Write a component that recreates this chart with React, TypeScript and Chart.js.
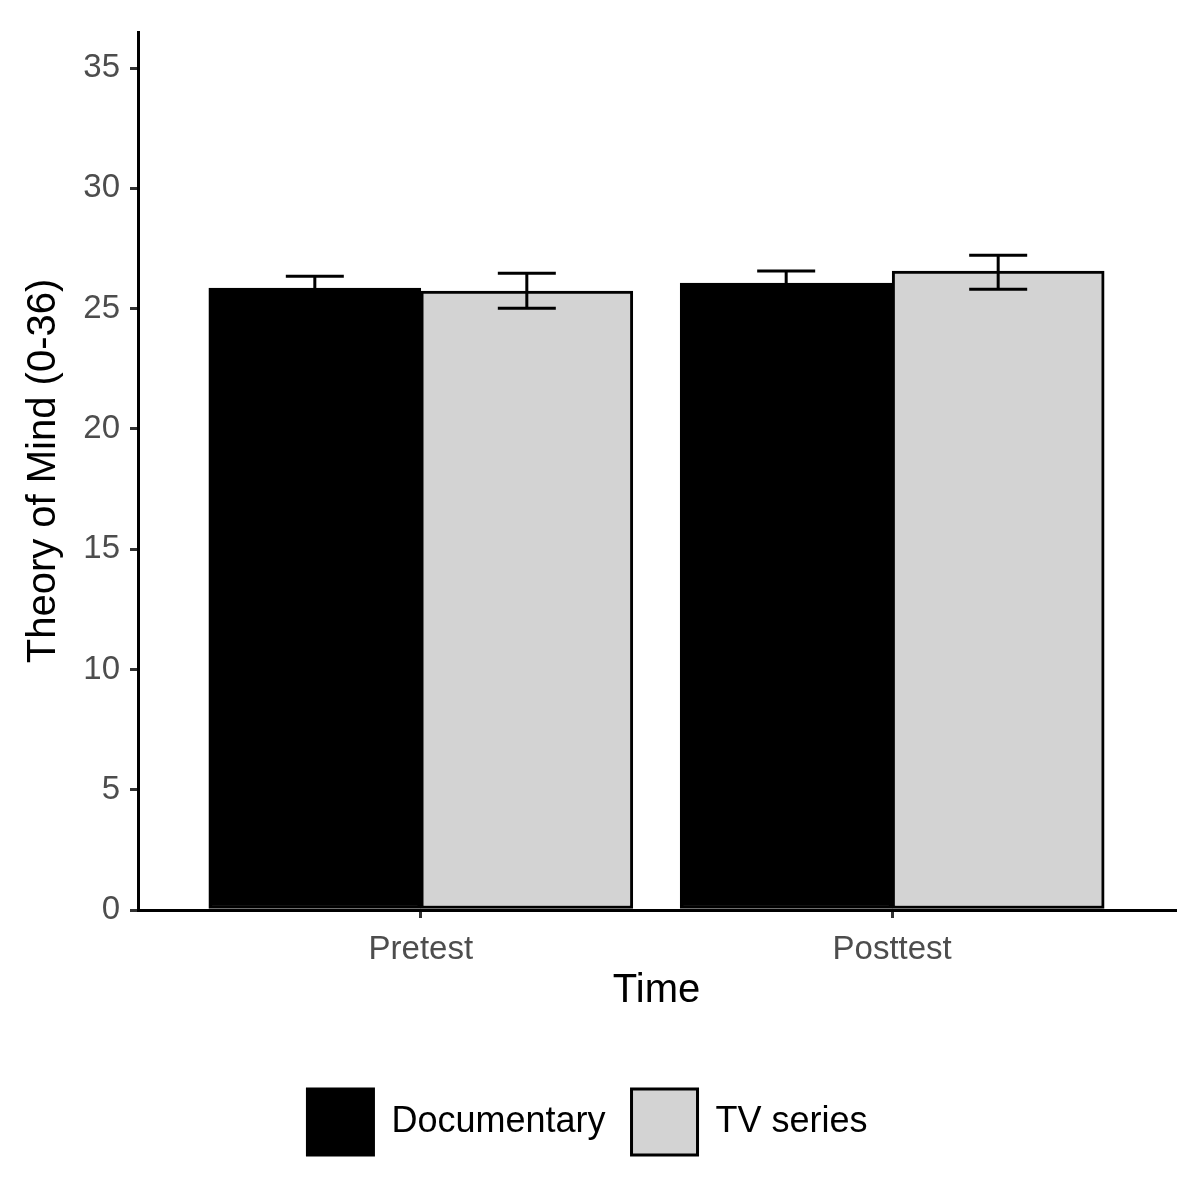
import React, { useEffect, useRef } from "react";
import { Chart, registerables } from "chart.js";
Chart.register(...registerables);

const categories = ["Pretest", "Posttest"];
const seriesNames = ["Documentary", "TV series"];
const docMeans = [25.85, 26.06];
const docLow = [25.35, 25.56];
const docHigh = [26.35, 26.56];
const tvMeans = [25.73, 26.56];
const tvLow = [25.02, 25.81];
const tvHigh = [26.47, 27.22];
const yTicks = [0, 5, 10, 15, 20, 25, 30, 35];

const errorPlugin = {
  id: "errbars",
  afterDatasetsDraw(chart: any) {
    const ctx = chart.ctx;
    const y = chart.scales.y;
    const sets = [[docLow, docHigh], [tvLow, tvHigh]];
    ctx.save();
    ctx.strokeStyle = "#000";
    ctx.lineWidth = 3;
    sets.forEach((s, di) => {
      const meta = chart.getDatasetMeta(di);
      meta.data.forEach((bar: any, i: number) => {
        const x = bar.x;
        const y1 = y.getPixelForValue(s[0][i]);
        const y2 = y.getPixelForValue(s[1][i]);
        ctx.beginPath();
        ctx.moveTo(x, y1); ctx.lineTo(x, y2);
        ctx.moveTo(x - 29, y1); ctx.lineTo(x + 29, y1);
        ctx.moveTo(x - 29, y2); ctx.lineTo(x + 29, y2);
        ctx.stroke();
      });
    });
    ctx.restore();
  },
};

export default function App() {
  const ref = useRef<HTMLCanvasElement>(null);
  useEffect(() => {
    document.body.style.margin = "0";
    const chart = new Chart(ref.current!, {
      type: "bar",
      data: {
        datasets: [
          {
            label: seriesNames[0],
            data: docMeans.map((v, i) => ({ x: i + 1, y: v })),
            backgroundColor: "#000000",
            borderColor: "#000000",
            borderWidth: 3,
            borderSkipped: false,
          },
          {
            label: seriesNames[1],
            data: tvMeans.map((v, i) => ({ x: i + 1, y: v })),
            backgroundColor: "#d3d3d3",
            borderColor: "#000000",
            borderWidth: 3,
            borderSkipped: false,
          },
        ],
      },
      options: {
        animation: false,
        responsive: false,
        maintainAspectRatio: false,
        layout: { padding: { left: 0, right: 25, top: 32, bottom: 25 } },
        datasets: { bar: { barThickness: 212 } },
        plugins: {
          tooltip: { enabled: false },
          legend: {
            position: "bottom",
            labels: {
              boxWidth: 66,
              boxHeight: 66,
              padding: 26,
              color: "#000",
              font: { family: "Liberation Sans", size: 36 },
            },
          },
        },
        scales: {
          x: {
            type: "linear",
            offset: false,
            min: 0.4,
            max: 2.6,
            afterBuildTicks: (s: any) => { s.ticks = categories.map((_, i) => ({ value: i + 1 })); },
            afterFit: (s: any) => { s.height = 153; },
            ticks: {
              callback: (v: any) => categories[Math.round(Number(v)) - 1] ?? "",
              color: "#4d4d4d",
              font: { family: "Liberation Sans", size: 33 },
              padding: 12,
              autoSkip: false,
              maxRotation: 0,
            },
            grid: { drawOnChartArea: false, drawTicks: true, tickLength: 8, color: "#333", lineWidth: 3, offset: false },
            border: { display: true, color: "#000", width: 3 },
            title: { display: true, text: "Time", color: "#000", font: { family: "Liberation Sans", size: 40 }, padding: { top: 4, bottom: 48 } },
          },
          y: {
            min: 0,
            max: 36.5,
            afterBuildTicks: (s: any) => { s.ticks = yTicks.map((v) => ({ value: v })); },
            afterFit: (s: any) => { s.width = 138; },
            ticks: {
              color: "#4d4d4d",
              font: { family: "Liberation Sans", size: 33 },
              padding: 10,
            },
            grid: { drawOnChartArea: false, drawTicks: true, tickLength: 8, color: "#333", lineWidth: 3 },
            border: { display: true, color: "#000", width: 3 },
            title: { display: true, text: "Theory of Mind (0-36)", color: "#000", font: { family: "Liberation Sans", size: 40 }, padding: { top: 20, bottom: 0 } },
          },
        },
      },
      plugins: [errorPlugin],
    } as any);
    return () => chart.destroy();
  }, []);
  return <canvas ref={ref} width={1200} height={1190} style={{ display: "block" }} />;
}
